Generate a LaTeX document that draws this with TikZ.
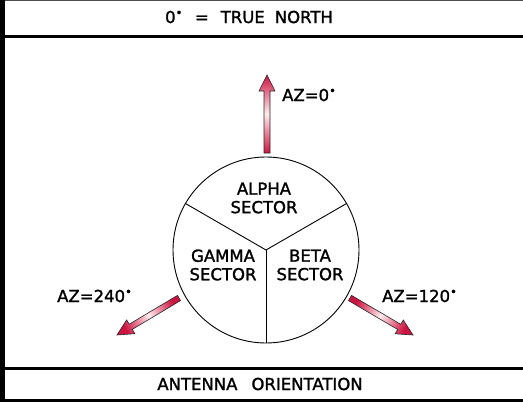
\documentclass[tikz,border=0pt]{standalone}
\usepackage{fontspec}
\setmainfont{DejaVu Sans}
\newfontfamily\cadfont[RawFeature={embolden=1.5}]{DejaVu Sans}
\usetikzlibrary{calc}
\tikzset{
  lbl/.style={font=\cadfont\fontsize{16.5}{18.5}\selectfont, inner sep=0pt, align=center},
  frameline/.style={line width=3pt, black},
  arrowshade/.style={draw=black!85, line width=0.6pt, line join=miter,
    shading=axis, top color=arrred, bottom color=arrred, middle color=arrpale},
}
\definecolor{arrred}{RGB}{205,20,65}
\definecolor{arrpale}{RGB}{255,235,238}
\newcommand{\dg}{\textsuperscript{•}}
\newcommand{\shadedarrow}[3]{%
  \shade[arrowshade, shading angle=#3]
    ($(#1)!3pt!90:(#2)$) --
    ($($(#2)!16pt!(#1)$)!3pt!-90:(#1)$) --
    ($($(#2)!16pt!(#1)$)!8pt!-90:(#1)$) --
    (#2) --
    ($($(#2)!16pt!(#1)$)!8pt!90:(#1)$) --
    ($($(#2)!16pt!(#1)$)!3pt!90:(#1)$) --
    ($(#1)!3pt!-90:(#2)$) -- cycle;}
\begin{document}
\begin{tikzpicture}[x=1pt,y=-1pt]
\useasboundingbox (0,0) rectangle (523,402);
% frame
\coordinate (tl) at (0,0.5);
\coordinate (tr) at (523,0.5);
\draw[line width=1pt, black!70] (tl) -- (tr);
\coordinate (lt) at (2.5,0);
\coordinate (lb) at (2.5,402);
\draw[line width=5pt] (lt) -- (lb);
\coordinate (b1l) at (0,36);
\coordinate (b1r) at (523,36);
\draw[frameline] (b1l) -- (b1r);
\coordinate (b2l) at (0,368);
\coordinate (b2r) at (523,368);
\draw[frameline] (b2l) -- (b2r);
\coordinate (b3l) at (0,400.5);
\coordinate (b3r) at (523,400.5);
\draw[frameline] (b3l) -- (b3r);
% titles
\node[lbl] (title) at (249,17) {0\dg{}\hspace{12pt}=\hspace{12pt}TRUE\hspace{10pt}NORTH};
\node[lbl] (caption) at (260,384) {ANTENNA\hspace{14pt}ORIENTATION};
% circle and sectors
\node[draw, circle, line width=0.9pt, minimum size=186pt, inner sep=0pt] (c) at (266,250) {};
\draw[line width=0.9pt] (c.center) -- (c.-90);
\draw[line width=0.9pt] (c.center) -- (c.150);
\draw[line width=0.9pt] (c.center) -- (c.30);
\node[lbl] (alpha) at (264,198) {ALPHA\\SECTOR};
\node[lbl] (gamma) at (223,265) {GAMMA\\SECTOR};
\node[lbl] (beta) at (310,265) {BETA\\SECTOR};
% arrows
\coordinate (t0) at (267,153);
\coordinate (h0) at (267,75);
\coordinate (t240) at (179,298);
\coordinate (h240) at (117,335);
\coordinate (t120) at (350,298);
\coordinate (h120) at (413,335);
\shadedarrow{t0}{h0}{0}
\shadedarrow{t240}{h240}{120}
\shadedarrow{t120}{h120}{-120}
\node[lbl, anchor=west] (az0) at (282,95) {AZ=0\dg};
\node[lbl, anchor=west] (az240) at (57,296) {AZ=240\dg};
\node[lbl, anchor=west] (az120) at (382,296) {AZ=120\dg};
\end{tikzpicture}
\end{document}
